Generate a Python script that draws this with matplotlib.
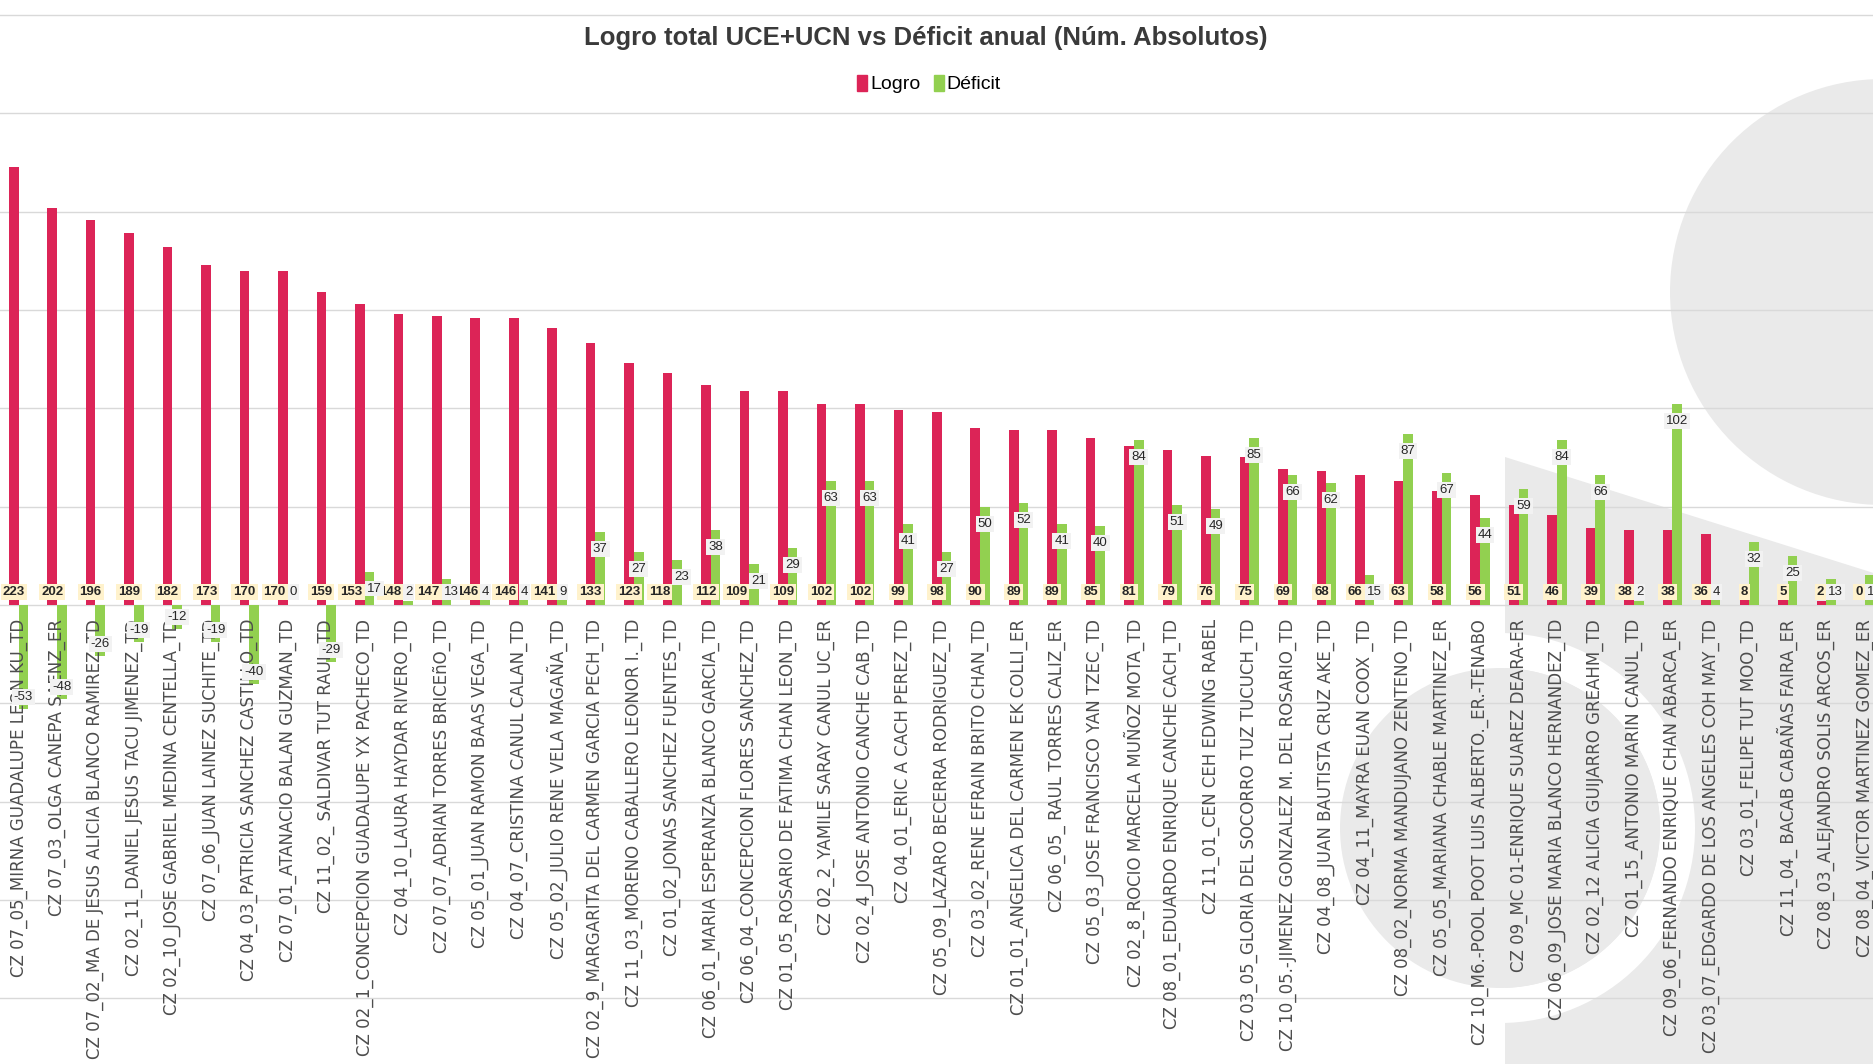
import numpy as np
import matplotlib.pyplot as plt
from matplotlib.patches import Circle, Polygon, Wedge, Patch

nombres = [
    "CZ 07_05_MIRNA GUADALUPE LEON KU_TD",
    "CZ 07_03_OLGA CANEPA SAENZ_ER",
    "CZ 07_02_MA DE JESUS ALICIA BLANCO RAMIREZ_TD",
    "CZ 02_11_DANIEL JESUS TACU JIMENEZ_TD",
    "CZ 02_10_JOSE GABRIEL MEDINA CENTELLA_TD",
    "CZ 07_06_JUAN LAINEZ SUCHITE_TD",
    "CZ 04_03_PATRICIA SANCHEZ CASTILLO_TD",
    "CZ 07_01_ATANACIO BALAN GUZMAN_TD",
    "CZ 11_02_ SALDIVAR TUT RAUL_TD",
    "CZ 02_1_CONCEPCION GUADALUPE YX PACHECO_TD",
    "CZ 04_10_LAURA HAYDAR RIVERO_TD",
    "CZ 07_07_ADRIAN TORRES BRICEñO_TD",
    "CZ 05_01_JUAN RAMON BAAS VEGA_TD",
    "CZ 04_07_CRISTINA CANUL CALAN_TD",
    "CZ 05_02_JULIO RENE VELA MAGAÑA_TD",
    "CZ 02_9_MARGARITA DEL CARMEN GARCIA PECH_TD",
    "CZ 11_03_MORENO CABALLERO LEONOR I._TD",
    "CZ 01_02_JONAS SANCHEZ FUENTES_TD",
    "CZ 06_01_MARIA ESPERANZA BLANCO GARCIA_TD",
    "CZ 06_04_CONCEPCION FLORES SANCHEZ_TD",
    "CZ 01_05_ROSARIO DE FATIMA CHAN LEON_TD",
    "CZ 02_2_YAMILE SARAY CANUL UC_ER",
    "CZ 02_4_JOSE ANTONIO CANCHE CAB_TD",
    "CZ 04_01_ERIC A CACH PEREZ_TD",
    "CZ 05_09_LAZARO BECERRA RODRIGUEZ_TD",
    "CZ 03_02_RENE EFRAIN BRITO CHAN_TD",
    "CZ 01_01_ANGELICA DEL CARMEN EK COLLI_ER",
    "CZ 06_05_ RAUL TORRES CALIZ_ER",
    "CZ 05_03_JOSE FRANCISCO YAN TZEC_TD",
    "CZ 02_8_ROCIO MARCELA MUÑOZ MOTA_TD",
    "CZ 08_01_EDUARDO ENRIQUE CANCHE CACH_TD",
    "CZ 11_01_CEN CEH EDWING RABEL",
    "CZ 03_05_GLORIA DEL SOCORRO TUZ TUCUCH_TD",
    "CZ 10_05.-JIMENEZ GONZALEZ M. DEL ROSARIO_TD",
    "CZ 04_08_JUAN BAUTISTA CRUZ AKE_TD",
    "CZ 04_11_MAYRA EUAN COOX _TD",
    "CZ 08_02_NORMA MANDUJANO ZENTENO_TD",
    "CZ 05_05_MARIANA CHABLE MARTINEZ_ER",
    "CZ 10_M6.-POOL POOT LUIS ALBERTO._ER.-TENABO",
    "CZ 09_MC 01-ENRIQUE SUAREZ DEARA-ER",
    "CZ 06_09_JOSE MARIA BLANCO HERNANDEZ_TD",
    "CZ 02_12 ALICIA GUIJARRO GREAHM_TD",
    "CZ 01_15_ANTONIO MARIN CANUL_TD",
    "CZ 09_06_FERNANDO ENRIQUE CHAN ABARCA_ER",
    "CZ 03_07_EDGARDO DE LOS ANGELES COH MAY_TD",
    "CZ 03_01_FELIPE TUT MOO_TD",
    "CZ 11_04_ BACAB CABAÑAS FAIRA_ER",
    "CZ 08_03_ALEJANDRO SOLIS ARCOS_ER",
    "CZ 08_04_VICTOR MARTINEZ GOMEZ_ER",
]

logro = [223, 202, 196, 189, 182, 173, 170, 170, 159, 153, 148, 147, 146, 146,
         141, 133, 123, 118, 112, 109, 109, 102, 102, 99, 98, 90, 89, 89, 85,
         81, 79, 76, 75, 69, 68, 66, 63, 58, 56, 51, 46, 39, 38, 38, 36, 8, 5,
         2, 0]

deficit = [-53, -48, -26, -19, -12, -19, -40, 0, -29, 17, 2, 13, 4, 4, 9, 37,
           27, 23, 38, 21, 29, 63, 63, 41, 27, 50, 52, 41, 40, 84, 51, 49, 85,
           66, 62, 15, 87, 67, 44, 59, 84, 66, 2, 102, 4, 32, 25, 13, 15]

titulo = "Logro total UCE+UCN vs Déficit anual (Núm. Absolutos)"
series = ["Logro", "Déficit"]

ROJO = "#DC2457"
VERDE = "#92D050"
GRIS_FONDO = "#EAEAEA"
ARIAL = ["Liberation Sans", "DejaVu Sans"]

W, H = 1874, 1064
fig = plt.figure(figsize=(W / 100, H / 100), dpi=100)

# figuras decorativas del fondo (marca de agua)
bg = fig.add_axes([0, 0, 1, 1], zorder=0)
bg.set_xlim(0, W)
bg.set_ylim(H, 0)
bg.axis("off")
bg.add_patch(Circle((1883, 292), 213, color=GRIS_FONDO, lw=0))
bg.add_patch(Polygon([(1505, 457), (1880, 575), (1880, 1070), (1505, 1070)],
                     closed=True, color=GRIS_FONDO, lw=0))
bg.add_patch(Wedge((1500, 828), 195, -90, 90, width=35, color="white", lw=0))
bg.add_patch(Circle((1500, 828), 160, color=GRIS_FONDO, lw=0))

ax = fig.add_axes([0, 0, 1, 1], zorder=1)
ax.set_facecolor("none")
ymin, ymax = -233.5, 307.7
ax.set_ylim(ymin, ymax)
ax.set_xlim(-0.481, 48.242)
for s in ax.spines.values():
    s.set_visible(False)
ax.set_xticks([])
ax.set_yticks([])
for g in range(-200, 301, 50):
    ax.axhline(g, color="#D9D9D9", lw=1.0, zorder=0)

x = np.arange(len(nombres))
w = 0.25
ax.bar(x - w / 2, logro, w, color=ROJO, zorder=2)
ax.bar(x + w / 2, deficit, w, color=VERDE, zorder=2)

ppu = H / (ymax - ymin)  # pixeles por unidad
caja_l = dict(boxstyle="square,pad=0.15", fc="#FFF2CC", ec="none")
caja_d = dict(boxstyle="square,pad=0.15", fc="#F2F2F2", ec="none")
base = 13
fs = 9.5

for i in range(len(nombres)):
    lv, dv = logro[i], deficit[i]
    if dv > 0:
        dy = max(dv * ppu - 17, base)
    elif dv < 0:
        dy = dv * ppu + 12
    else:
        dy = base
    lado = dv >= 0 and dy - base < 16
    if lado:
        ax.annotate(str(lv), (i, 0), xytext=(-2, base), textcoords="offset pixels",
                    ha="right", va="center", fontsize=fs, fontweight="bold",
                    color="#262626", family=ARIAL, bbox=caja_l, zorder=4)
        ax.annotate(str(dv), (i, 0), xytext=(2, dy), textcoords="offset pixels",
                    ha="left", va="center", fontsize=fs, color="#262626",
                    family=ARIAL, bbox=caja_d, zorder=5)
    else:
        ax.annotate(str(lv), (i - w / 2, 0), xytext=(0, base), textcoords="offset pixels",
                    ha="center", va="center", fontsize=fs, fontweight="bold",
                    color="#262626", family=ARIAL, bbox=caja_l, zorder=4)
        ax.annotate(str(dv), (i + w / 2, 0), xytext=(0, dy), textcoords="offset pixels",
                    ha="center", va="center", fontsize=fs, color="#262626",
                    family=ARIAL, bbox=caja_d, zorder=5)

    ax.annotate(nombres[i], (i, 0), xytext=(0, -14), textcoords="offset pixels",
                rotation=90, ha="center", va="top", fontsize=12, color="#4D4D4D",
                zorder=3)

fig.text(926 / W, 1 - 38 / H, titulo, ha="center", va="center", fontsize=18.5,
         fontweight="bold", color="#3A3A3A", family=ARIAL)

handles = [Patch(color=ROJO, label=series[0]), Patch(color=VERDE, label=series[1])]
fig.legend(handles=handles, loc="center", bbox_to_anchor=(929 / W, 1 - 84 / H),
           ncol=2, frameon=False, prop={"family": ARIAL, "size": 14},
           handlelength=0.5, handleheight=0.9, handletextpad=0.15,
           columnspacing=0.7)

fig.savefig("out.png", dpi=100)
